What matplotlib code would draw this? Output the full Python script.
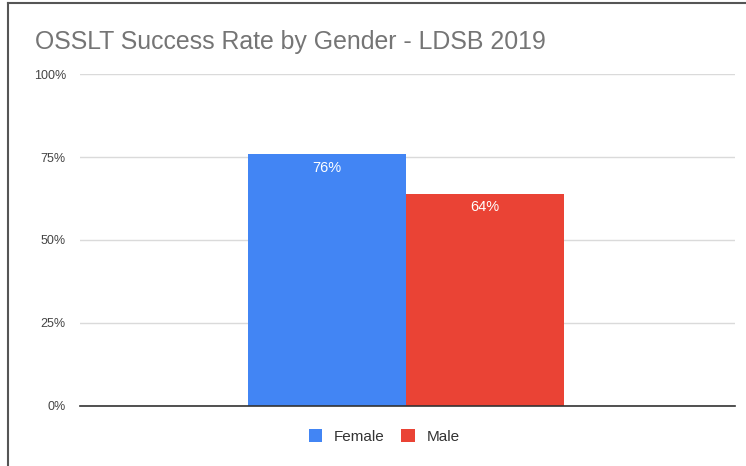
import matplotlib.pyplot as plt
from matplotlib.lines import Line2D

plt.rcParams['font.family'] = ['Liberation Sans', 'DejaVu Sans']

# Success rates by gender
genders = ["Female", "Male"]
rates = [76, 64]
colors = ["#4285F4", "#EA4335"]
yticks = [0, 25, 50, 75, 100]

fig = plt.figure(figsize=(7.46, 4.66), dpi=100)
ax = fig.add_axes([0.107, 0.129, 0.878, 0.712])

x = [-0.5, 0.5]
bars = ax.bar(x, rates, width=1.0, color=colors, label=genders, zorder=3)
for b, v in zip(bars, rates):
    ax.text(b.get_x() + b.get_width() / 2, v - 4.2, f"{v}%", ha='center', va='center',
            color='white', fontsize=10.5, zorder=4)

ax.set_xlim(-2.063, 2.082)
ax.set_ylim(0, 100)
ax.set_yticks(yticks)
ax.set_yticklabels([f"{t}%" for t in yticks], fontsize=9, color='#444444')
ax.set_xticks([])
ax.tick_params(axis='y', length=0, pad=10)
ax.grid(axis='y', color='#dadada', linewidth=1, zorder=0)
for s in ['top', 'right', 'left']:
    ax.spines[s].set_visible(False)
ax.spines['bottom'].set_color('#333333')
ax.spines['bottom'].set_linewidth(1.2)
ax.spines['bottom'].set_zorder(5)

fig.text(0.047, 0.91, "OSSLT Success Rate by Gender - LDSB 2019", fontsize=17.9,
         color='#757575', va='center', ha='left')

fig.legend(handles=list(bars), labels=genders, loc='center',
           bbox_to_anchor=(0.515, 0.064), ncol=2, frameon=False,
           fontsize=11, handlelength=0.9, handleheight=1.0, handletextpad=0.75,
           columnspacing=1.1, labelcolor='#333333')

# frame edges
fig.add_artist(Line2D([0.0107, 1.0], [0.9936, 0.9936], color='#555555', linewidth=1.5))
fig.add_artist(Line2D([0.0107, 0.0107], [0.0, 0.9936], color='#555555', linewidth=1.5))

fig.savefig("out.png", dpi=100)
